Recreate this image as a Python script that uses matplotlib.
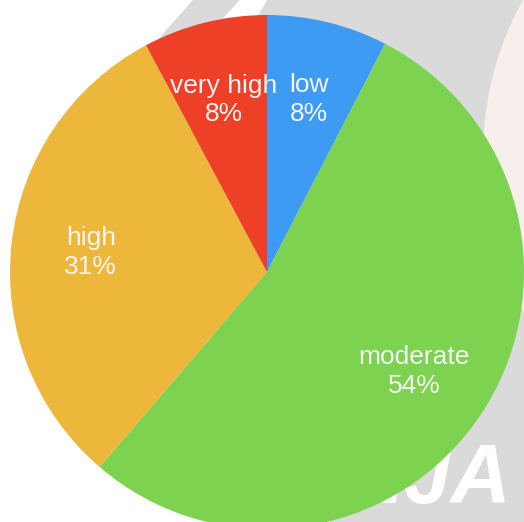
import matplotlib
matplotlib.use("Agg")
import matplotlib.pyplot as plt
from matplotlib.patches import Polygon, Circle

# ---- data ----
categories = ["low", "moderate", "high", "very high"]
shares = [7.6, 53.7, 30.9, 7.8]
colors = ["#3E9BF4", "#7DD250", "#EDB73C", "#EE3F27"]

W, H = 524, 522
fig = plt.figure(figsize=(W / 100, H / 100), dpi=100)
fig.patch.set_facecolor("white")

# background watermark (pixel coords, y down)
bg = fig.add_axes([0, 0, 1, 1])
bg.set_xlim(0, W)
bg.set_ylim(H, 0)
bg.axis("off")
gray = "#DADADA"
bg.add_patch(Polygon([(267, 0), (W, 0), (W, H), (330, H), (150, 200)],
                     closed=True, facecolor=gray, edgecolor="none", zorder=0))
bg.add_patch(Polygon([(193, 0), (240, 0), (140, 110), (95, 110)],
                     closed=True, facecolor=gray, edgecolor="none", zorder=0))
bg.add_patch(Polygon([(240, 0), (267, 0), (150, 200), (140, 110)],
                     closed=True, facecolor="white", edgecolor="none", zorder=0.5))
bg.add_patch(Circle((805, 155), 322, facecolor="#F6EFEC", edgecolor="none", zorder=1))
bg.text(382, 520, "IJA", fontsize=60, color="white", fontweight="bold",
        family="Liberation Sans", style="italic", ha="left", va="bottom", zorder=1)

# pie axes (clipped at the top like the reference)
top_clip = 18
ax = fig.add_axes([0, 0, 1, (H - top_clip) / H])
ax.patch.set_alpha(0)
cx, cy, r = 267, H - 272, 257

total = sum(shares)
labels = [f"{c}\n{round(v / total * 100)}%" for c, v in zip(categories, shares)]

ax.pie(shares, colors=colors, startangle=90, counterclock=False,
       center=(cx, cy), radius=r, labels=labels, labeldistance=0.69,
       wedgeprops=dict(linewidth=0),
       textprops=dict(color="#F4F4F4", fontsize=19, family="Liberation Sans",
                      ha="center", va="center", linespacing=1.25))
ax.set_xlim(0, W)
ax.set_ylim(0, H - top_clip)
ax.set_aspect("auto")
ax.axis("off")

fig.savefig("out.png", dpi=100)
